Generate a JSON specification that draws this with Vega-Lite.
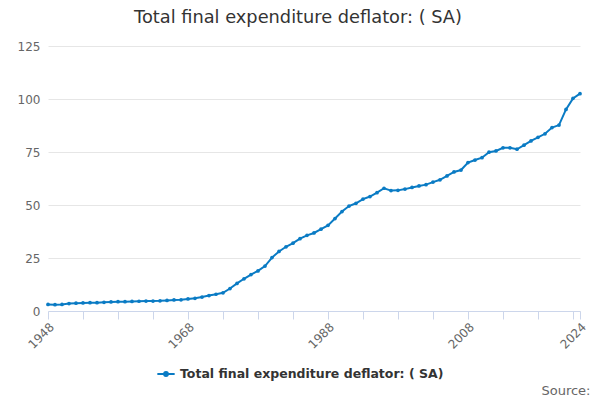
{
  "$schema": "https://vega.github.io/schema/vega-lite/v6.json",
  "autosize": {"type": "none"},
  "width": 532,
  "height": 265,
  "padding": {"left": 48, "top": 46, "right": 20, "bottom": 89},
  "background": "white",
  "title": {
    "text": "Total final expenditure deflator: ( SA)",
    "anchor": "middle",
    "dx": -16,
    "offset": 13,
    "fontSize": 17.8,
    "font": "DejaVu Sans",
    "fontWeight": "normal",
    "color": "#333333"
  },
  "config": {
    "view": {"stroke": null},
    "font": "DejaVu Sans"
  },
  "data": {
    "values": [
      {"year": 1948, "value": 3.1, "series": "Total final expenditure deflator: ( SA)"},
      {"year": 1949, "value": 3.0, "series": "Total final expenditure deflator: ( SA)"},
      {"year": 1950, "value": 3.1, "series": "Total final expenditure deflator: ( SA)"},
      {"year": 1951, "value": 3.5, "series": "Total final expenditure deflator: ( SA)"},
      {"year": 1952, "value": 3.7, "series": "Total final expenditure deflator: ( SA)"},
      {"year": 1953, "value": 3.8, "series": "Total final expenditure deflator: ( SA)"},
      {"year": 1954, "value": 3.9, "series": "Total final expenditure deflator: ( SA)"},
      {"year": 1955, "value": 3.9, "series": "Total final expenditure deflator: ( SA)"},
      {"year": 1956, "value": 4.1, "series": "Total final expenditure deflator: ( SA)"},
      {"year": 1957, "value": 4.3, "series": "Total final expenditure deflator: ( SA)"},
      {"year": 1958, "value": 4.4, "series": "Total final expenditure deflator: ( SA)"},
      {"year": 1959, "value": 4.4, "series": "Total final expenditure deflator: ( SA)"},
      {"year": 1960, "value": 4.5, "series": "Total final expenditure deflator: ( SA)"},
      {"year": 1961, "value": 4.6, "series": "Total final expenditure deflator: ( SA)"},
      {"year": 1962, "value": 4.7, "series": "Total final expenditure deflator: ( SA)"},
      {"year": 1963, "value": 4.7, "series": "Total final expenditure deflator: ( SA)"},
      {"year": 1964, "value": 4.8, "series": "Total final expenditure deflator: ( SA)"},
      {"year": 1965, "value": 5.0, "series": "Total final expenditure deflator: ( SA)"},
      {"year": 1966, "value": 5.2, "series": "Total final expenditure deflator: ( SA)"},
      {"year": 1967, "value": 5.3, "series": "Total final expenditure deflator: ( SA)"},
      {"year": 1968, "value": 5.7, "series": "Total final expenditure deflator: ( SA)"},
      {"year": 1969, "value": 6.0, "series": "Total final expenditure deflator: ( SA)"},
      {"year": 1970, "value": 6.6, "series": "Total final expenditure deflator: ( SA)"},
      {"year": 1971, "value": 7.3, "series": "Total final expenditure deflator: ( SA)"},
      {"year": 1972, "value": 7.9, "series": "Total final expenditure deflator: ( SA)"},
      {"year": 1973, "value": 8.6, "series": "Total final expenditure deflator: ( SA)"},
      {"year": 1974, "value": 10.6, "series": "Total final expenditure deflator: ( SA)"},
      {"year": 1975, "value": 13.0, "series": "Total final expenditure deflator: ( SA)"},
      {"year": 1976, "value": 15.2, "series": "Total final expenditure deflator: ( SA)"},
      {"year": 1977, "value": 17.2, "series": "Total final expenditure deflator: ( SA)"},
      {"year": 1978, "value": 18.9, "series": "Total final expenditure deflator: ( SA)"},
      {"year": 1979, "value": 21.2, "series": "Total final expenditure deflator: ( SA)"},
      {"year": 1980, "value": 25.2, "series": "Total final expenditure deflator: ( SA)"},
      {"year": 1981, "value": 28.1, "series": "Total final expenditure deflator: ( SA)"},
      {"year": 1982, "value": 30.3, "series": "Total final expenditure deflator: ( SA)"},
      {"year": 1983, "value": 32.0, "series": "Total final expenditure deflator: ( SA)"},
      {"year": 1984, "value": 34.1, "series": "Total final expenditure deflator: ( SA)"},
      {"year": 1985, "value": 35.7, "series": "Total final expenditure deflator: ( SA)"},
      {"year": 1986, "value": 36.8, "series": "Total final expenditure deflator: ( SA)"},
      {"year": 1987, "value": 38.6, "series": "Total final expenditure deflator: ( SA)"},
      {"year": 1988, "value": 40.4, "series": "Total final expenditure deflator: ( SA)"},
      {"year": 1989, "value": 43.6, "series": "Total final expenditure deflator: ( SA)"},
      {"year": 1990, "value": 46.9, "series": "Total final expenditure deflator: ( SA)"},
      {"year": 1991, "value": 49.5, "series": "Total final expenditure deflator: ( SA)"},
      {"year": 1992, "value": 50.8, "series": "Total final expenditure deflator: ( SA)"},
      {"year": 1993, "value": 52.8, "series": "Total final expenditure deflator: ( SA)"},
      {"year": 1994, "value": 54.0, "series": "Total final expenditure deflator: ( SA)"},
      {"year": 1995, "value": 55.8, "series": "Total final expenditure deflator: ( SA)"},
      {"year": 1996, "value": 57.9, "series": "Total final expenditure deflator: ( SA)"},
      {"year": 1997, "value": 56.8, "series": "Total final expenditure deflator: ( SA)"},
      {"year": 1998, "value": 56.9, "series": "Total final expenditure deflator: ( SA)"},
      {"year": 1999, "value": 57.5, "series": "Total final expenditure deflator: ( SA)"},
      {"year": 2000, "value": 58.3, "series": "Total final expenditure deflator: ( SA)"},
      {"year": 2001, "value": 59.0, "series": "Total final expenditure deflator: ( SA)"},
      {"year": 2002, "value": 59.6, "series": "Total final expenditure deflator: ( SA)"},
      {"year": 2003, "value": 60.8, "series": "Total final expenditure deflator: ( SA)"},
      {"year": 2004, "value": 61.9, "series": "Total final expenditure deflator: ( SA)"},
      {"year": 2005, "value": 63.7, "series": "Total final expenditure deflator: ( SA)"},
      {"year": 2006, "value": 65.6, "series": "Total final expenditure deflator: ( SA)"},
      {"year": 2007, "value": 66.5, "series": "Total final expenditure deflator: ( SA)"},
      {"year": 2008, "value": 70.0, "series": "Total final expenditure deflator: ( SA)"},
      {"year": 2009, "value": 71.2, "series": "Total final expenditure deflator: ( SA)"},
      {"year": 2010, "value": 72.3, "series": "Total final expenditure deflator: ( SA)"},
      {"year": 2011, "value": 74.9, "series": "Total final expenditure deflator: ( SA)"},
      {"year": 2012, "value": 75.5, "series": "Total final expenditure deflator: ( SA)"},
      {"year": 2013, "value": 77.0, "series": "Total final expenditure deflator: ( SA)"},
      {"year": 2014, "value": 77.0, "series": "Total final expenditure deflator: ( SA)"},
      {"year": 2015, "value": 76.3, "series": "Total final expenditure deflator: ( SA)"},
      {"year": 2016, "value": 78.2, "series": "Total final expenditure deflator: ( SA)"},
      {"year": 2017, "value": 80.2, "series": "Total final expenditure deflator: ( SA)"},
      {"year": 2018, "value": 81.9, "series": "Total final expenditure deflator: ( SA)"},
      {"year": 2019, "value": 83.6, "series": "Total final expenditure deflator: ( SA)"},
      {"year": 2020, "value": 86.5, "series": "Total final expenditure deflator: ( SA)"},
      {"year": 2021, "value": 87.7, "series": "Total final expenditure deflator: ( SA)"},
      {"year": 2022, "value": 95.1, "series": "Total final expenditure deflator: ( SA)"},
      {"year": 2023, "value": 100.3, "series": "Total final expenditure deflator: ( SA)"},
      {"year": 2024, "value": 102.5, "series": "Total final expenditure deflator: ( SA)"}
    ]
  },
  "mark": {
    "type": "line",
    "strokeWidth": 2,
    "point": {"filled": true, "size": 14}
  },
  "encoding": {
    "x": {
      "field": "year",
      "type": "quantitative",
      "scale": {"domain": [1948, 2024], "nice": false, "zero": false},
      "axis": {
        "title": "Source:",
        "titleAnchor": "end",
        "titleAlign": "right",
        "titleX": 542,
        "titleY": 83,
        "titleBaseline": "alphabetic",
        "titleFontSize": 13,
        "titleFontWeight": "normal",
        "titleColor": "#666666",
        "values": [1948, 1953, 1958, 1963, 1968, 1973, 1978, 1983, 1988, 1993, 1998, 2003, 2008, 2013, 2018, 2023, 2024],
        "labelExpr": "indexof([1948, 1968, 1988, 2008, 2024], datum.value) >= 0 ? '' + datum.value : ''",
        "labelAngle": -45,
        "labelFontSize": 12,
        "labelColor": "#666666",
        "labelOverlap": false,
        "labelFlush": false,
        "labelPadding": 2,
        "grid": false,
        "domainColor": "#ccd6eb",
        "tickColor": "#ccd6eb",
        "tickSize": 8
      }
    },
    "y": {
      "field": "value",
      "type": "quantitative",
      "scale": {"domain": [0, 125], "nice": false},
      "axis": {
        "title": null,
        "values": [0, 25, 50, 75, 100, 125],
        "labelFontSize": 12,
        "labelColor": "#666666",
        "labelPadding": 8,
        "domain": false,
        "ticks": false,
        "gridColor": "#e6e6e6"
      }
    },
    "color": {
      "field": "series",
      "type": "nominal",
      "scale": {"range": ["#0a7bc4"]},
      "legend": {
        "title": null,
        "orient": "none",
        "legendX": 108,
        "legendY": 318,
        "symbolType": "M-1,0L1,0M-0.22,0a0.22,0.22 0 1,0 0.44,0a0.22,0.22 0 1,0 -0.44,0",
        "symbolSize": 300,
        "symbolStrokeWidth": 2,
        "labelFontSize": 12.5,
        "labelFontWeight": "bold",
        "labelColor": "#333333",
        "labelLimit": 400
      }
    }
  }
}
